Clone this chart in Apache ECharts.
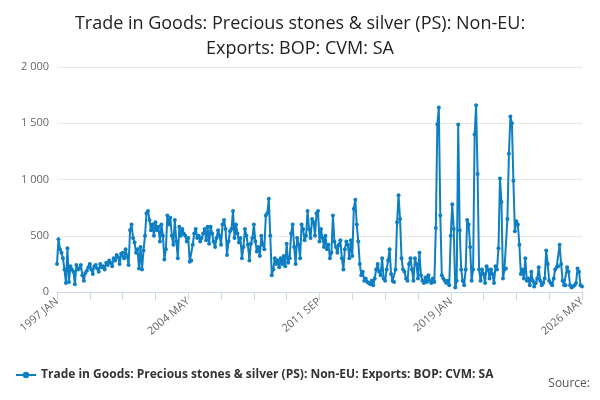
<!DOCTYPE html>
<html><head><meta charset="utf-8">
<script src="https://cdn.jsdelivr.net/npm/echarts@6/dist/echarts.min.js"></script>
<style>html,body{margin:0;padding:0;background:#fff}#c{width:600px;height:400px}</style>
</head><body><div id="c"></div>
<script>
const monthNames = ["JAN","FEB","MAR","APR","MAY","JUN","JUL","AUG","SEP","OCT","NOV","DEC"];
const values = [
250,470,380,350,300,200,80,390,90,230,200,180,
70,240,200,210,240,150,100,170,190,220,250,200,
160,230,240,210,180,250,220,230,200,260,240,280,
260,230,300,280,330,310,250,340,350,300,380,320,
240,550,600,480,440,350,380,210,400,200,370,500,
700,720,640,550,600,500,620,550,580,450,600,500,
290,380,680,600,660,500,420,640,450,300,580,500,
560,520,500,450,480,270,280,420,520,560,480,500,
450,480,520,560,460,580,430,580,520,450,400,480,
550,500,420,600,640,560,330,450,540,560,720,480,
600,520,440,480,300,400,560,500,420,280,430,480,
600,450,360,400,320,500,420,380,680,700,830,500,
150,200,300,250,280,220,300,250,320,230,430,260,
300,520,600,400,250,480,420,300,600,560,460,500,
720,560,480,650,620,500,700,720,450,560,480,400,
500,380,420,300,350,680,450,400,350,420,460,300,
200,380,450,420,300,460,320,740,820,600,450,250,
150,180,100,120,90,80,70,100,60,120,200,250,
180,150,300,120,100,200,280,380,160,100,90,200,
620,860,650,300,200,180,120,100,250,300,200,100,
300,250,120,350,150,100,80,130,90,150,100,80,
120,90,570,1490,1640,680,150,120,100,80,100,60,
500,780,560,40,100,1490,550,200,100,60,200,640,
600,400,100,200,1400,1660,1050,200,100,200,160,80,
230,200,120,200,160,80,230,200,390,1010,800,120,
200,210,650,1230,1560,1500,990,540,630,600,420,160,
200,120,300,100,120,60,180,100,50,80,120,220,
100,60,80,120,370,250,100,80,60,120,200,220,
230,420,250,100,60,60,220,180,60,40,50,60,
80,210,180,60,50
];
const startYear = 1997;
const categories = values.map((v,i)=> (startYear+Math.floor(i/12))+" "+monthNames[i%12]);
const seriesName = "Trade in Goods: Precious stones & silver (PS): Non-EU: Exports: BOP: CVM: SA";
const chart = echarts.init(document.getElementById('c'));
chart.setOption({
  animation:false,
  title:{text:"Trade in Goods: Precious stones & silver (PS): Non-EU:\nExports: BOP: CVM: SA",left:'center',top:6,
    textStyle:{fontFamily:'Open Sans, sans-serif',fontSize:18,fontWeight:500,color:'#222',lineHeight:25}},
  grid:{left:57,right:18,top:67,bottom:108},
  legend:{bottom:14,left:10,itemWidth:20,itemHeight:8,textStyle:{fontFamily:'Open Sans, sans-serif',fontSize:12,fontWeight:'bold',color:'#333'}},
  graphic:[{type:'text',right:10,bottom:10,style:{text:'Source:',font:'12px Open Sans, sans-serif',fill:'#555'}}],
  xAxis:{type:'category',data:categories,boundaryGap:false,
    axisLine:{lineStyle:{color:'#ccd6eb'}},axisTick:{alignWithLabel:true,interval:21,lineStyle:{color:'#ccd6eb'},length:8},
    axisLabel:{interval:87,rotate:40,color:'#666',fontSize:11,fontFamily:'Open Sans, sans-serif',showMaxLabel:true}},
  yAxis:{type:'value',min:0,max:2000,interval:500,
    axisLabel:{color:'#666',fontSize:11,fontFamily:'Open Sans, sans-serif',formatter:v=>v>=1000?String(v).replace(/(\d)(\d{3})$/,'$1 $2'):String(v)},
    splitLine:{lineStyle:{color:'#e6e6e6'}}},
  series:[{name:seriesName,type:'line',data:values,symbol:'circle',symbolSize:4,showAllSymbol:true,
    itemStyle:{color:'#0f7fc3'},lineStyle:{width:2,color:'#0f7fc3'}}]
});
</script></body></html>
